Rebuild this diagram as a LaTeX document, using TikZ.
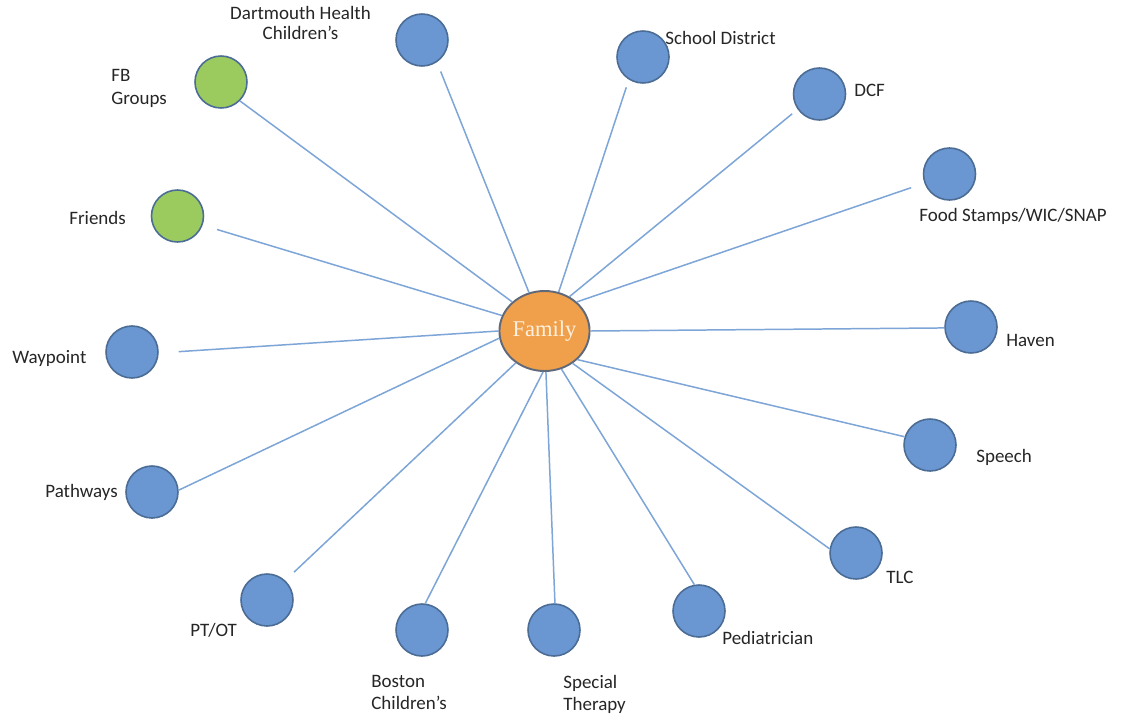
\documentclass[tikz,border=0pt]{standalone}
\usepackage{fontspec}
\setmainfont{Carlito}
\newfontfamily\famfont{Liberation Serif}
\usetikzlibrary{shapes.geometric}
\definecolor{bubblue}{RGB}{106,150,210}
\definecolor{bubgreen}{RGB}{155,203,95}
\definecolor{bubline}{RGB}{75,108,148}
\definecolor{famorange}{RGB}{240,160,75}
\definecolor{famline}{RGB}{95,105,122}
\definecolor{linkblue}{RGB}{125,165,215}
\definecolor{famtext}{RGB}{253,242,225}
\begin{document}
\begin{tikzpicture}[x=0.02cm,y=-0.02cm,
  bub/.style={circle,draw=bubline,fill=bubblue,line width=0.9pt,minimum size=1.04cm,inner sep=0},
  gbub/.style={bub,fill=bubgreen},
  lab/.style={font=\fontsize{10.8}{12.5}\selectfont,inner sep=0,align=left,anchor=west,text=black!85},
  link/.style={draw=linkblue,line width=0.85pt}]
\useasboundingbox[fill=white] (0,0) rectangle (1121,717);

% center
\node[ellipse,draw=famline,fill=famorange,line width=1.1pt,minimum width=1.7cm,minimum height=1.6cm,inner sep=0,
  font=\famfont\fontsize{12.8}{14}\selectfont,text=famtext] (fam) at (544.5,331) {Family};

% bubbles
\node[bub] (dart) at (422,40) {};
\node[bub] (school) at (643,57) {};
\node[bub] (dcf) at (819.5,94) {};
\node[bub] (food) at (949.5,174) {};
\node[bub] (haven) at (971,327) {};
\node[bub] (speech) at (930,445) {};
\node[bub] (tlc) at (856,553) {};
\node[bub] (ped) at (699,611) {};
\node[bub] (spec) at (554,630) {};
\node[bub] (bos) at (422,630) {};
\node[bub] (ptot) at (267,600) {};
\node[bub] (path) at (152,492) {};
\node[bub] (way) at (132,352) {};
\node[gbub] (fr) at (177.5,216) {};
\node[gbub] (fb) at (221,82) {};

% labels
\node[lab,anchor=center,align=center,font=\fontsize{10.8}{11.5}\selectfont] (ldart) at (300.5,23) {Dartmouth Health\\Children’s};
\node[lab] (lschool) at (665,38) {School District};
\node[lab] (ldcf) at (854,90) {DCF};
\node[lab] (lfood) at (919,216) {Food Stamps/WIC/SNAP};
\node[lab] (lhaven) at (1006,340) {Haven};
\node[lab] (lspeech) at (976,457) {Speech};
\node[lab] (ltlc) at (886,577) {TLC};
\node[lab] (lped) at (722,638) {Pediatrician};
\node[lab,font=\fontsize{10.8}{13}\selectfont] (lspec) at (563,694.5) {Special\\Therapy};
\node[lab,font=\fontsize{10.8}{12}\selectfont] (lbos) at (371,692.5) {Boston\\Children’s};
\node[lab] (lptot) at (190,630) {PT/OT};
\node[lab] (lpath) at (45,492) {Pathways};
\node[lab] (lway) at (12,358) {Waypoint};
\node[lab] (lfr) at (69,218) {Friends};
\node[lab,font=\fontsize{10.8}{13}\selectfont] (lfb) at (111,88.5) {FB\\Groups};

% connectors
\draw[link,shorten <=0.2cm] (dart.-56) -- (fam.112);
\draw[link,shorten <=0.16cm] (school.238) -- (fam.70);
\draw[link,shorten <=0.14cm] (dcf.215) -- (fam.54);
\draw[link,shorten <=0.28cm] (food.200) -- (fam.42);
\draw[link] (haven.182) -- (fam.0);
\draw[link] (speech.162) -- (fam.319);
\draw[link] (tlc.171) -- (fam.311);
\draw[link] (ped.100) -- (fam.294);
\draw[link] (spec.88) -- (fam.272);
\draw[link] (bos.83) -- (fam.268);
\draw[link,shorten <=0.24cm] (ptot.47) -- (fam.228);
\draw[link] (path.4) -- (fam.189);
\draw[link,shorten <=0.4cm] (way.-2) -- (fam.180);
\draw[link,shorten <=0.3cm] (fr.-20) -- (fam.160);
\draw[link] (fb.-45) -- (fam.138);
\end{tikzpicture}
\end{document}
